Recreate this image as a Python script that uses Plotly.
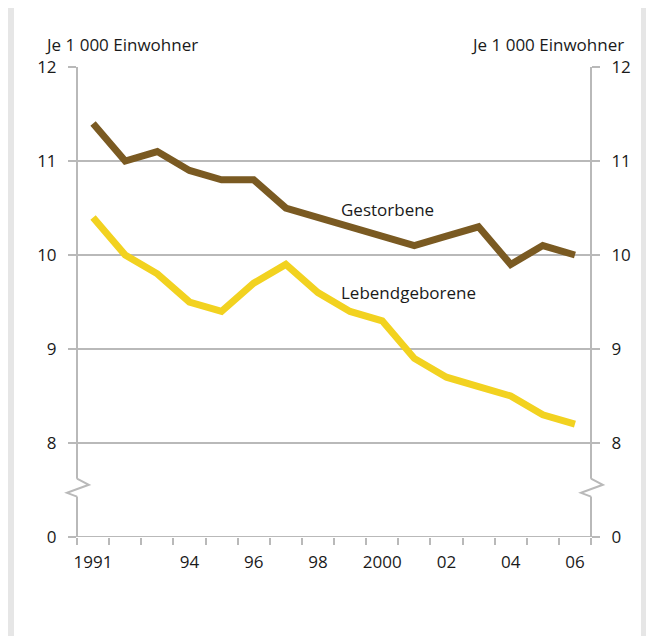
import plotly.graph_objects as go

years = list(range(1991, 2007))
gestorbene = [11.4, 11.0, 11.1, 10.9, 10.8, 10.8, 10.5, 10.4, 10.3, 10.2, 10.1, 10.2, 10.3, 9.9, 10.1, 10.0]
lebendgeborene = [10.4, 10.0, 9.8, 9.5, 9.4, 9.7, 9.9, 9.6, 9.4, 9.3, 8.9, 8.7, 8.6, 8.5, 8.3, 8.2]

year_ticks = [1991, 1994, 1996, 1998, 2000, 2002, 2004, 2006]
year_labels = ["1991", "94", "96", "98", "2000", "02", "04", "06"]
# the axis is broken: position 7 carries the label 0
y_ticks = [7, 8, 9, 10, 11, 12]
y_labels = ["0", "8", "9", "10", "11", "12"]

GRID = "#b9b9b9"
FONT = dict(family="Open Sans, Noto Sans, sans-serif", size=17, color="#1a1a1a")
BROWN = "#7a5a22"
YELLOW = "#f2d220"

fig = go.Figure()

fig.add_trace(go.Scatter(x=years, y=gestorbene, mode="lines", name="Gestorbene",
                         line=dict(color=BROWN, width=7), hoverinfo="skip"))
fig.add_trace(go.Scatter(x=years, y=lebendgeborene, mode="lines", name="Lebendgeborene",
                         line=dict(color=YELLOW, width=7), hoverinfo="skip"))
# dummy trace to activate the second axes
fig.add_trace(go.Scatter(x=[years[0]], y=[7], yaxis="y2", xaxis="x2", mode="markers",
                         marker=dict(opacity=0), showlegend=False, hoverinfo="skip"))

boundaries = [y - 0.5 for y in years] + [years[-1] + 0.5]

yax = dict(range=[7, 12], tickvals=y_ticks, ticktext=y_labels, showgrid=True,
           gridcolor=GRID, gridwidth=2, ticks="outside", ticklen=8, tickwidth=2,
           tickcolor=GRID, showline=False, zeroline=False, tickfont=FONT,
           ticklabelstandoff=8, fixedrange=True)

fig.update_layout(
    width=654, height=636,
    # page body adds an 8px offset, so margins are shifted by 8px
    margin=dict(l=69, r=71, t=59, b=107),
    paper_bgcolor="#e6e6e6",
    plot_bgcolor="white",
    showlegend=False,
    font=FONT,
    xaxis=dict(range=[1990.5, 2006.5], tickvals=boundaries, showticklabels=False,
               ticks="outside", ticklen=7, tickwidth=2, tickcolor=GRID,
               showgrid=False, zeroline=False, showline=False),
    xaxis2=dict(range=[1990.5, 2006.5], overlaying="x", side="bottom",
                tickvals=year_ticks, ticktext=year_labels, ticks="outside",
                ticklen=10, tickcolor="rgba(0,0,0,0)", showgrid=False,
                zeroline=False, showline=False, tickfont=FONT),
    yaxis=yax,
    yaxis2=dict(yax, overlaying="y", side="right", showgrid=False),
)

# white panel behind the chart
fig.add_shape(type="rect", xref="paper", yref="paper", x0=-0.1226, x1=1.0973,
              y0=-0.25, y1=1.1255, fillcolor="white", line_width=0, layer="below")

# axis lines with break marks
for xp in [0, 1]:
    fig.add_shape(type="line", xref="paper", yref="y", x0=xp, x1=xp, y0=7.62, y1=12,
                  line=dict(color=GRID, width=2))
    fig.add_shape(type="line", xref="paper", yref="y", x0=xp, x1=xp, y0=7, y1=7.43,
                  line=dict(color=GRID, width=2))
    fig.add_shape(type="path", xref="paper", yref="y",
                  path=f"M {xp} 7.62 L {xp + 0.023} 7.556 L {xp - 0.0195} 7.47 L {xp} 7.43",
                  line=dict(color=GRID, width=2))
# baseline
fig.add_shape(type="line", xref="paper", yref="y", x0=0, x1=1, y0=7, y1=7,
              line=dict(color=GRID, width=2))

fig.add_annotation(x=1998.66, y=10.48, text="Gestorbene", showarrow=False,
                   xanchor="left", yanchor="middle", font=FONT)
fig.add_annotation(x=1998.66, y=9.6, text="Lebendgeborene", showarrow=False,
                   xanchor="left", yanchor="middle", font=FONT)

fig.add_annotation(xref="paper", yref="paper", x=-0.0661, y=1.047, text="Je 1 000 Einwohner",
                   showarrow=False, xanchor="left", yanchor="middle", font=FONT)
fig.add_annotation(xref="paper", yref="paper", x=1.068, y=1.047, text="Je 1 000 Einwohner",
                   showarrow=False, xanchor="right", yanchor="middle", font=FONT)

fig.write_html("out.html")
